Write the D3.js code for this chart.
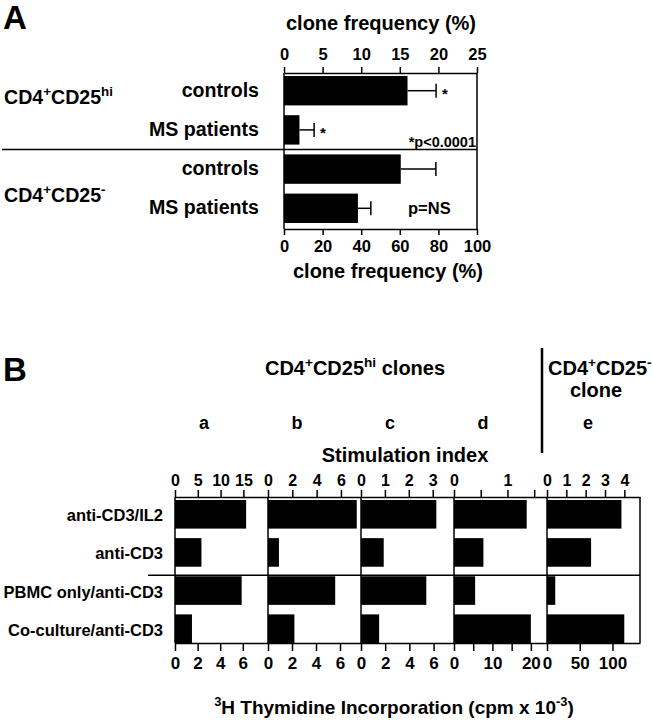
<!DOCTYPE html>
<html>
<head>
<meta charset="utf-8">
<script src="https://cdn.jsdelivr.net/npm/d3@7"></script>
<style>
  body { margin: 0; background: #fff; }
  svg { display: block; font-family: "Liberation Sans", Arial, sans-serif; font-weight: bold; }
  .axis path, .axis line { stroke: #000; stroke-width: 1.5; }
  .axis text { fill: #000; }
  .frame { stroke: #000; stroke-width: 1.5; }
</style>
</head>
<body>
<svg width="653" height="720"></svg>
<script>
const svg = d3.select('svg');

// ---- Panel A data
const groupLabelsA = [
  [['CD4'], ['+', 1], ['CD25'], ['hi', 1]],
  [['CD4'], ['+', 1], ['CD25'], ['-', 1]],
];
const rowsA = ['controls', 'MS patients', 'controls', 'MS patients'];
const hiFreq = [16.0, 2.0]; // CD25hi, read on the 0-25 top axis
const hiErr = [19.7, 3.9];
const negFreq = [60.5, 38.3]; // CD25-, read on the 0-100 bottom axis
const negErr = [78.7, 45.0];
const ticksTopA = [0, 5, 10, 15, 20, 25];
const ticksBottomA = [0, 20, 40, 60, 80, 100];

// ---- Panel B data
const clones = ['a', 'b', 'c', 'd', 'e'];
const rowsB = ['anti-CD3/IL2', 'anti-CD3', 'PBMC only/anti-CD3', 'Co-culture/anti-CD3'];
const siIL2 = [15.6, 7.3, 3.15, 1.36, 3.85]; // stimulation index
const siCD3 = [5.8, 0.9, 0.95, 0.55, 2.28];
const cpmPBMC = [5.9, 5.6, 5.4, 5.5, 12.6]; // cpm x 10^-3
const cpmCoculture = [1.5, 2.2, 1.5, 20, 118];
const siMax = [20.4, 7.65, 3.89, 1.74, 4.81];
const cpmMax = [8.23, 7.75, 7.69, 24.2, 142];
const siTicks = [[0, 5, 10, 15], [0, 2, 4, 6], [0, 1, 2, 3], [0, 0.5, 1, 1.5], [0, 1, 2, 3, 4]];
const siTickLabels = [['0', '5', '10', '15'], ['0', '2', '4', '6'], ['0', '1', '2', '3'], ['0', '', '1', ''], ['0', '1', '2', '3', '4']];
const cpmTicks = [[0, 2, 4, 6], [0, 2, 4, 6], [0, 2, 4, 6], [0, 5, 10, 15, 20], [0, 50, 100]];
const cpmTickLabels = [['0', '2', '4', '6'], ['0', '2', '4', '6'], ['0', '2', '4', '6'], ['0', '', '10', '', '20'], ['0', '50', '100']];

// text with superscript parts: [[text, isSup], ...]
const rich = (g, parts, x, y, size, anchor) => {
  const t = g.append('text')
    .attr('x', x).attr('y', y)
    .attr('font-size', size)
    .attr('text-anchor', anchor || 'start');
  let up = false;
  parts.forEach(([s, sup]) => {
    const sp = t.append('tspan').text(s);
    if (sup && !up) sp.attr('dy', -size * 0.4);
    if (!sup && up) sp.attr('dy', size * 0.4);
    if (sup) sp.attr('font-size', size * 0.68);
    up = !!sup;
  });
  return t;
};

const styleAxis = (g, size) => {
  g.attr('class', 'axis').attr('font-family', null).attr('font-size', size);
};

// ================= Panel A =================
const gA = svg.append('g');
const topA = 73;
const botA = 229;
const xTopA = d3.scaleLinear().domain([0, 25]).range([284, 477]);
const xBotA = d3.scaleLinear().domain([0, 100]).range([284, 477]);
const yA = d3.scaleBand().domain(d3.range(rowsA.length)).range([76, 223]).paddingInner(0.25);
const bwA = yA.bandwidth();

gA.append('text').attr('x', 3).attr('y', 29).attr('font-size', 33).text('A');
gA.append('text').attr('x', 381).attr('y', 30).attr('font-size', 20)
  .attr('text-anchor', 'middle').text('clone frequency (%)');
gA.append('text').attr('x', 388).attr('y', 278).attr('font-size', 20)
  .attr('text-anchor', 'middle').text('clone frequency (%)');

gA.append('g').attr('transform', `translate(0,${topA})`)
  .call(d3.axisTop(xTopA).tickValues(ticksTopA).tickSize(6).tickPadding(7).tickSizeOuter(0))
  .call(styleAxis, 16.5);
gA.append('g').attr('transform', `translate(0,${botA})`)
  .call(d3.axisBottom(xBotA).tickValues(ticksBottomA).tickSize(6).tickPadding(5).tickSizeOuter(0))
  .call(styleAxis, 16.5);

[xTopA.range()[0], xTopA.range()[1]].forEach((x) => {
  gA.append('line').attr('class', 'frame')
    .attr('x1', x).attr('x2', x).attr('y1', topA).attr('y2', botA);
});

const dataA = rowsA.map((label, i) => ({
  label,
  v: i < 2 ? hiFreq[i] : negFreq[i - 2],
  e: i < 2 ? hiErr[i] : negErr[i - 2],
  x: i < 2 ? xTopA : xBotA,
}));

gA.selectAll('rect.bar')
  .data(dataA)
  .enter()
  .append('rect')
  .attr('class', 'bar')
  .attr('x', (d) => d.x(0))
  .attr('y', (d, i) => yA(i))
  .attr('width', (d) => d.x(d.v) - d.x(0))
  .attr('height', bwA)
  .attr('fill', '#000');

const errG = gA.selectAll('g.err').data(dataA).enter().append('g').attr('class', 'err')
  .attr('stroke', '#000').attr('stroke-width', 1.5);
errG.append('line')
  .attr('x1', (d) => d.x(d.v)).attr('x2', (d) => d.x(d.e))
  .attr('y1', (d, i) => yA(i) + bwA / 2).attr('y2', (d, i) => yA(i) + bwA / 2);
errG.append('line')
  .attr('x1', (d) => d.x(d.e)).attr('x2', (d) => d.x(d.e))
  .attr('y1', (d, i) => yA(i) + bwA / 2 - 7).attr('y2', (d, i) => yA(i) + bwA / 2 + 7);

gA.selectAll('text.rowA')
  .data(dataA)
  .enter()
  .append('text')
  .attr('class', 'rowA')
  .attr('x', 259)
  .attr('y', (d, i) => yA(i) + bwA / 2 + 6)
  .attr('text-anchor', 'end')
  .attr('font-size', 19.6)
  .text((d) => d.label);

// significance stars for CD25hi
hiErr.forEach((e, i) => {
  gA.append('text').attr('x', xTopA(e) + 6).attr('y', yA(i) + bwA / 2 + 8)
    .attr('font-size', 15).text('*');
});
gA.append('text').attr('x', 476).attr('y', yA(1) + bwA + 2)
  .attr('text-anchor', 'end').attr('font-size', 14.5).text('*p<0.0001');
gA.append('text').attr('x', 408).attr('y', yA(3) + bwA / 2 + 6)
  .attr('font-size', 16.5).text('p=NS');

const sepA = (yA(1) + bwA + yA(2)) / 2;
gA.append('line').attr('class', 'frame')
  .attr('x1', 2).attr('x2', xTopA.range()[1]).attr('y1', sepA).attr('y2', sepA);

rich(gA, groupLabelsA[0], 4, 104, 19.6);
rich(gA, groupLabelsA[1], 4, 202, 19.6);

// ================= Panel B =================
const gB = svg.append('g');
const topB = 497;
const botB = 643;
const xB = d3.scaleBand().domain(clones).range([175, 640]);
const wB = xB.bandwidth();
const yB = d3.scaleBand().domain(d3.range(rowsB.length)).range([500, 643]).paddingInner(0.25);
const bwB = yB.bandwidth();

gB.append('text').attr('x', 3).attr('y', 381).attr('font-size', 33).text('B');
rich(gB, [['CD4'], ['+', 1], ['CD25'], ['hi', 1], [' clones']], 355, 375, 20, 'middle');
rich(gB, [['CD4'], ['+', 1], ['CD25'], ['-', 1]], 548, 375, 20);
gB.append('text').attr('x', 596).attr('y', 397).attr('font-size', 20)
  .attr('text-anchor', 'middle').text('clone');
gB.append('line').attr('stroke', '#000').attr('stroke-width', 2.5)
  .attr('x1', 542).attr('x2', 542).attr('y1', 348).attr('y2', 453);
gB.append('text').attr('x', 405).attr('y', 462).attr('font-size', 20)
  .attr('text-anchor', 'middle').text('Stimulation index');
rich(gB, [['3', 1], ['H Thymidine Incorporation (cpm x 10'], ['-3', 1], [')']], 394, 714, 19, 'middle');

gB.selectAll('text.clone')
  .data(clones)
  .enter()
  .append('text')
  .attr('class', 'clone')
  .attr('x', (d) => xB(d) + (d === 'e' ? 41 : 29))
  .attr('y', 429)
  .attr('text-anchor', 'middle')
  .attr('font-size', 18)
  .text((d) => d);

clones.forEach((c, i) => {
  const x0 = xB(c);
  const xs = d3.scaleLinear().domain([0, siMax[i]]).range([x0, x0 + wB]);
  const xc = d3.scaleLinear().domain([0, cpmMax[i]]).range([x0, x0 + wB]);
  const g = gB.append('g');

  g.append('g').attr('transform', `translate(0,${topB})`)
    .call(d3.axisTop(xs).tickValues(siTicks[i]).tickSize(7).tickPadding(4).tickSizeOuter(0)
      .tickFormat((d, j) => siTickLabels[i][j]))
    .call(styleAxis, 16);
  g.append('g').attr('transform', `translate(0,${botB})`)
    .call(d3.axisBottom(xc).tickValues(cpmTicks[i]).tickSize(8).tickPadding(6).tickSizeOuter(0)
      .tickFormat((d, j) => cpmTickLabels[i][j]))
    .call(styleAxis, 17);

  g.append('line').attr('class', 'frame')
    .attr('x1', x0).attr('x2', x0).attr('y1', topB).attr('y2', botB);

  const vals = [
    { v: siIL2[i], x: xs },
    { v: siCD3[i], x: xs },
    { v: cpmPBMC[i], x: xc },
    { v: cpmCoculture[i], x: xc },
  ];
  g.selectAll('rect')
    .data(vals)
    .enter()
    .append('rect')
    .attr('x', x0)
    .attr('y', (d, j) => yB(j))
    .attr('width', (d) => d.x(d.v) - x0)
    .attr('height', bwB)
    .attr('fill', '#000');
});

gB.append('line').attr('class', 'frame')
  .attr('x1', xB.range()[1]).attr('x2', xB.range()[1]).attr('y1', topB).attr('y2', botB);

const sepB = yB(2) - 1;
gB.append('line').attr('class', 'frame')
  .attr('x1', 148).attr('x2', xB.range()[1]).attr('y1', sepB).attr('y2', sepB);

gB.selectAll('text.rowB')
  .data(rowsB)
  .enter()
  .append('text')
  .attr('class', 'rowB')
  .attr('x', 163)
  .attr('y', (d, i) => yB(i) + bwB / 2 + 7)
  .attr('text-anchor', 'end')
  .attr('font-size', 16.5)
  .text((d) => d);
</script>
</body>
</html>
